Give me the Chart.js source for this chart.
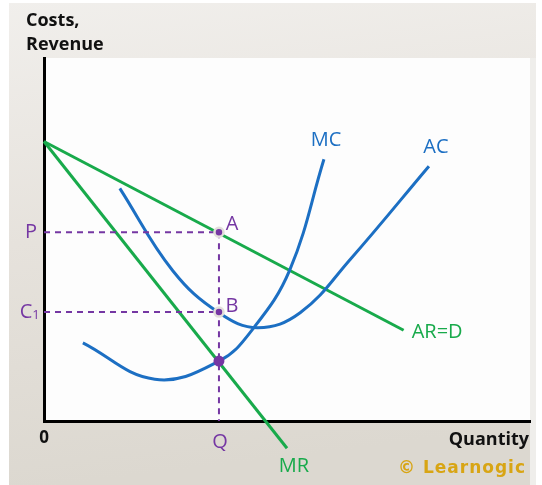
<!DOCTYPE html>
<html>
<head>
<meta charset="utf-8">
<script src="https://cdn.jsdelivr.net/npm/chart.js@4"></script>
<style>
  html, body { margin: 0; padding: 0; background: #fff; }
  #wrap { width: 542px; height: 485px; }
</style>
</head>
<body>
<div id="wrap"><canvas id="chart" width="542" height="485"></canvas></div>
<script>
// values (x = quantity, y = costs/revenue, both 0-100)
const qVal = 36;
const pVal = 52;
const c1Val = 30;
const mcMrVal = 16.5;

const arX = [0, 74];
const arY = [77, 25];

const mrX = [0, 50];
const mrY = [77, -7.5];

const mcX = [8, 22.8, 36, 43, 50.6, 57.6];
const mcY = [21.5, 11.5, 16.5, 25.4, 41.7, 72.1];

const acX = [15.6, 26.5, 36, 44, 52.7, 63, 79.2];
const acY = [64.1, 41.4, 29.8, 25.7, 29.8, 44.5, 70.2];

const green = "#18aa4b";
const blue = "#1c6fc3";
const purple = "#7537a3";
const gold = "#d8a514";

const toPoints = (xs, ys) => xs.map((x, i) => ({x: x, y: ys[i]}));

const lineSet = (label, pts, color, extra) => Object.assign({
    label: label,
    data: pts,
    borderColor: color,
    backgroundColor: color,
    borderWidth: 3,
    pointRadius: 0,
    fill: false,
    clip: false,
    tension: 0.4
}, extra || {});

const dashed = (pts) => lineSet("", pts, purple, {borderWidth: 2, borderDash: [6, 5], tension: 0});

const datasets = [
    {
        label: "points",
        type: "scatter",
        data: [{x: qVal, y: pVal}, {x: qVal, y: c1Val}, {x: qVal, y: mcMrVal}],
        pointRadius: [4.5, 4.5, 5.5],
        pointBorderWidth: [2.5, 2.5, 0],
        pointBackgroundColor: purple,
        pointBorderColor: "#e2dfda",
        clip: false
    },
    dashed([{x: 0, y: pVal}, {x: qVal, y: pVal}]),
    dashed([{x: 0, y: c1Val}, {x: qVal, y: c1Val}]),
    dashed([{x: qVal, y: pVal}, {x: qVal, y: 0}]),
    lineSet("MC", toPoints(mcX, mcY), blue),
    lineSet("AC", toPoints(acX, acY), blue),
    lineSet("MR", toPoints(mrX, mrY), green, {tension: 0}),
    lineSet("AR=D", toPoints(arX, arY), green, {tension: 0})
];

const backdrop = {
    id: "backdrop",
    beforeDraw: (chart) => {
        const ctx = chart.ctx;
        const a = chart.chartArea;
        ctx.save();
        ctx.fillStyle = "#ffffff";
        ctx.fillRect(0, 0, chart.width, chart.height);
        let g = ctx.createLinearGradient(0, 0, 60, chart.height);
        g.addColorStop(0, "#f1efec");
        g.addColorStop(0.5, "#e6e2dc");
        g.addColorStop(1, "#dcd8d0");
        ctx.fillStyle = g;
        ctx.fillRect(9, 3, chart.width - 15, chart.height - 3);
        ctx.fillStyle = "#efeeeb";
        ctx.fillRect(a.right, a.top, chart.width - 6 - a.right, chart.height - a.top);
        ctx.fillStyle = "#fdfdfd";
        ctx.fillRect(a.left, a.top, a.right - a.left, a.bottom - a.top);
        ctx.restore();
    }
};

const text = (ctx, str, x, y, font, color, align) => {
    ctx.font = font;
    ctx.fillStyle = color;
    ctx.textAlign = align || "center";
    ctx.textBaseline = "middle";
    ctx.fillText(str, x, y);
};

const labels = {
    id: "labels",
    afterDraw: (chart) => {
        const ctx = chart.ctx;
        const xs = chart.scales.x;
        const ys = chart.scales.y;
        const a = chart.chartArea;
        const lbl = "20px 'Open Sans'";
        ctx.save();
        text(ctx, "Costs,", a.left - 18, 21, "bold 18px 'Open Sans'", "#111", "left");
        text(ctx, "Revenue", a.left - 18, 45, "bold 18px 'Open Sans'", "#111", "left");
        text(ctx, "0", a.left, a.bottom + 17, "bold 17px 'Open Sans'", "#111");
        text(ctx, "Quantity", a.right - 1, a.bottom + 19, "bold 18px 'Open Sans'", "#111", "right");
        ctx.letterSpacing = "1px";
        text(ctx, "\u00A9 Learnogic", a.right - 4, a.bottom + 48, "bold 17px 'DejaVu Sans'", gold, "right");
        ctx.letterSpacing = "0px";

        let mcEnd = mcX.length - 1;
        text(ctx, "MC", xs.getPixelForValue(mcX[mcEnd]) + 2, ys.getPixelForValue(mcY[mcEnd]) - 19, lbl, blue);
        let acEnd = acX.length - 1;
        text(ctx, "AC", xs.getPixelForValue(acX[acEnd]) + 7, ys.getPixelForValue(acY[acEnd]) - 19, lbl, blue);
        text(ctx, "AR=D", xs.getPixelForValue(arX[1]) + 8, ys.getPixelForValue(arY[1]) + 2, lbl, green, "left");
        text(ctx, "MR", xs.getPixelForValue(mrX[1]) + 7, ys.getPixelForValue(mrY[1]) + 18, lbl, green);

        let qx = xs.getPixelForValue(qVal);
        text(ctx, "A", qx + 13, ys.getPixelForValue(pVal) - 8, lbl, purple);
        text(ctx, "B", qx + 13, ys.getPixelForValue(c1Val) - 6, lbl, purple);
        text(ctx, "Q", qx + 1, a.bottom + 21, lbl, purple);
        text(ctx, "P", a.left - 13, ys.getPixelForValue(pVal), lbl, purple);
        text(ctx, "C", a.left - 18, ys.getPixelForValue(c1Val), lbl, purple);
        text(ctx, "1", a.left - 8, ys.getPixelForValue(c1Val) + 3, "13px 'Open Sans'", purple);
        ctx.restore();
    }
};

document.addEventListener("DOMContentLoaded", () => {
    let chx = document.getElementById("chart");
    new Chart(chx, {
        type: "line",
        data: { datasets: datasets },
        options: {
            responsive: false,
            animation: false,
            layout: { padding: { left: 36, right: 12, top: 58, bottom: 56 } },
            plugins: { legend: { display: false }, tooltip: { enabled: false } },
            scales: {
                x: {
                    type: "linear", min: 0, max: 100,
                    grid: { display: false },
                    ticks: { display: false },
                    border: { display: true, color: "#000", width: 3 }
                },
                y: {
                    type: "linear", min: 0, max: 100,
                    grid: { display: false },
                    ticks: { display: false },
                    border: { display: true, color: "#000", width: 3 }
                }
            }
        },
        plugins: [backdrop, labels]
    });
});
</script>
</body>
</html>
